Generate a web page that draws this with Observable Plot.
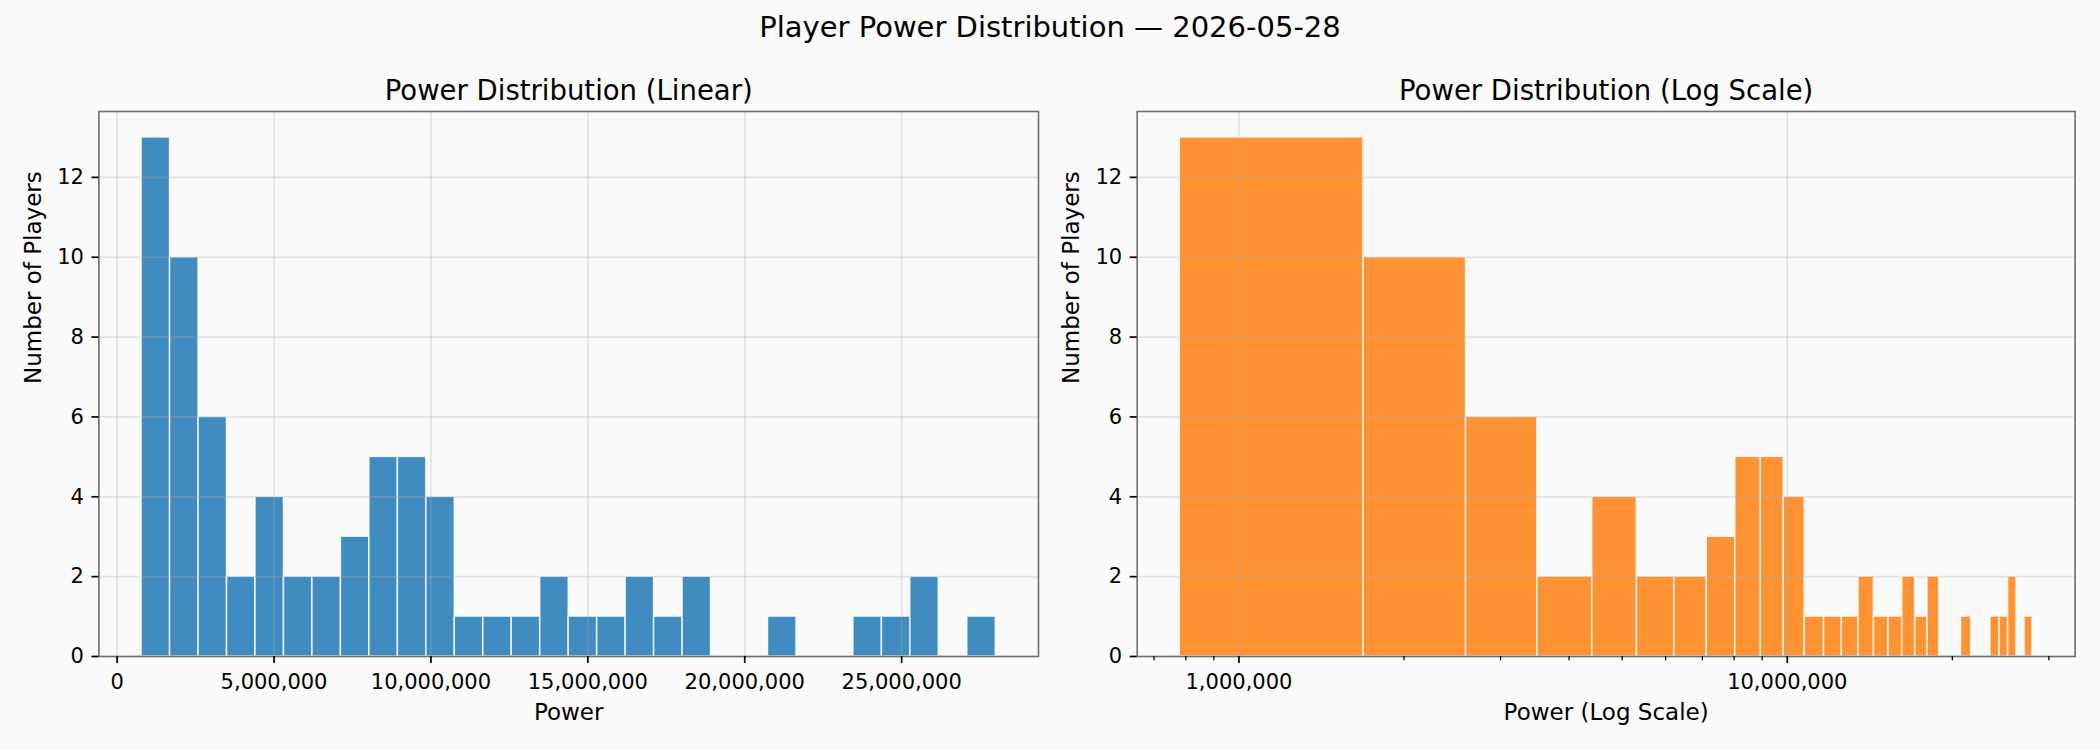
<!DOCTYPE html>
<html>
<head>
<meta charset="utf-8">
<script src="https://cdn.jsdelivr.net/npm/d3@7"></script>
<script src="https://cdn.jsdelivr.net/npm/@observablehq/plot@0.6"></script>
<style>
  html, body { margin: 0; padding: 0; background: #fafafa; }
  #fig { position: relative; width: 2100px; height: 750px; background: #fafafa; font-family: "DejaVu Sans", sans-serif; overflow: hidden; }
  #sup { position: absolute; left: 0; top: 12.8px; width: 2100px; text-align: center; font-size: 29px; line-height: 29px; color: #000; white-space: nowrap; }
  .panel { position: absolute; top: 0; }
</style>
</head>
<body>
<div id="fig">
  <div id="sup">Player Power Distribution — 2026-05-28</div>
  <div id="left" class="panel" style="left:0px"></div>
  <div id="right" class="panel" style="left:1050px"></div>
</div>
<script>
// ---- data ----
const binEdges = [780000, 1687000, 2595000, 3502000, 4409000, 5317000, 6224000, 7131000, 8038000, 8946000,
  9853000, 10760000, 11668000, 12575000, 13482000, 14390000, 15297000, 16204000, 17111000, 18019000,
  18926000, 19833000, 20741000, 21648000, 22555000, 23463000, 24370000, 25277000, 26184000, 27092000, 28000000];
const binCounts = [13, 10, 6, 2, 4, 2, 2, 3, 5, 5, 4, 1, 1, 1, 2, 1, 1, 2, 1, 2, 0, 0, 1, 0, 0, 1, 1, 2, 0, 1];
const yTicks = [0, 2, 4, 6, 8, 10, 12];
const linearTicks = [0, 5000000, 10000000, 15000000, 20000000, 25000000];
const logTicks = [1000000, 10000000];
const logMinorTicks = [700000, 800000, 900000, 2000000, 3000000, 4000000, 5000000, 6000000, 7000000, 8000000, 9000000, 20000000, 30000000];
const suptitle = "Player Power Distribution — 2026-05-28";
const titles = ["Power Distribution (Linear)", "Power Distribution (Log Scale)"];
const xLabels = ["Power", "Power (Log Scale)"];
const yLabel = "Number of Players";
const colors = ["#1f77b4", "#ff7f0e"];

const bins = binCounts.map((c, i) => ({x1: binEdges[i], x2: binEdges[i + 1], count: c})).filter(d => d.count > 0);
const fmt = d3.format(",");
const FONT = "DejaVu Sans";

document.getElementById("sup").textContent = suptitle;

function panel({xScale, xTicks, minor, color, title, xLabel, marginLeft, marginRight}) {
  const marks = [
    Plot.rect(bins, {x1: "x1", x2: "x2", y1: 0, y2: "count", fill: color, fillOpacity: 0.85,
      stroke: "white", strokeOpacity: 0.85, strokeWidth: 1.5}),
    Plot.gridY(yTicks, {stroke: "#b0b0b0", strokeOpacity: 0.3, strokeWidth: 1.67}),
    Plot.gridX(xTicks, {stroke: "#b0b0b0", strokeOpacity: 0.3, strokeWidth: 1.67}),
    Plot.frame({stroke: "#6f6f6f", strokeWidth: 1.6}),
    Plot.axisY(yTicks, {tickSize: 7, tickPadding: 8, fontSize: 21, stroke: "#000", strokeWidth: 1.7, fill: "#000", label: null}),
    Plot.axisX(xTicks, {tickSize: 7, tickPadding: 11, fontSize: 21, stroke: "#000", strokeWidth: 1.7, fill: "#000", tickFormat: fmt, label: null}),
    Plot.text([title], {text: d => d, frameAnchor: "top", dy: -20.5, fontSize: 27.5, lineAnchor: "middle", fill: "#000"}),
    Plot.text([xLabel], {text: d => d, frameAnchor: "bottom", dy: 56, fontSize: 23, lineAnchor: "middle", fill: "#000"}),
    Plot.text([yLabel], {text: d => d, frameAnchor: "left", rotate: -90, dx: -65.4, fontSize: 23, lineAnchor: "middle", fill: "#000"})
  ];
  if (minor) marks.push(Plot.axisX(minor, {tickSize: 4.2, strokeWidth: 1.25, stroke: "#000", tickFormat: () => "", label: null}));
  return Plot.plot({
    width: 1050,
    height: 750,
    marginLeft, marginRight,
    marginTop: 111,
    marginBottom: 94,
    style: {background: "transparent", fontFamily: FONT, fontSize: "21px", overflow: "visible", color: "#000"},
    x: xScale,
    y: {domain: [0, 13.65]},
    marks
  });
}

document.getElementById("left").append(panel({
  xScale: {type: "linear", domain: [-581000, 29361000]},
  xTicks: linearTicks,
  minor: null,
  color: colors[0],
  title: titles[0],
  xLabel: xLabels[0],
  marginLeft: 98.4,
  marginRight: 12
}));
document.getElementById("right").append(panel({
  xScale: {type: "log", domain: [652300, 33490000]},
  xTicks: logTicks,
  minor: logMinorTicks,
  color: colors[1],
  title: titles[1],
  xLabel: xLabels[1],
  marginLeft: 86.7,
  marginRight: 25.4
}));
</script>
</body>
</html>
